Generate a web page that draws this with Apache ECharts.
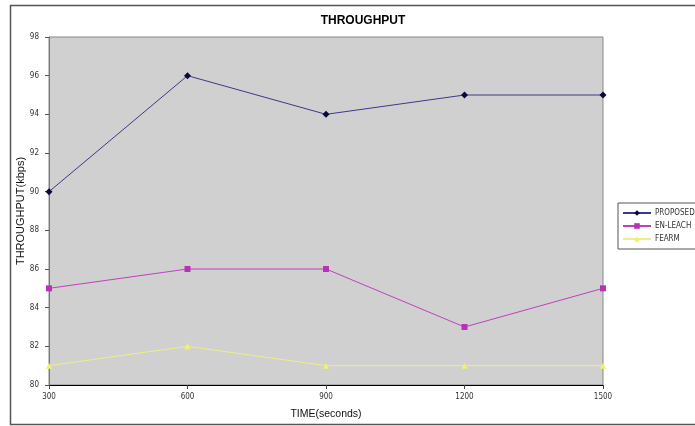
<!DOCTYPE html>
<html>
<head>
<meta charset="utf-8">
<script src="https://cdn.jsdelivr.net/npm/echarts@6/dist/echarts.min.js"></script>
<style>
  html, body { margin: 0; padding: 0; background: #fff; }
  #chart { width: 695px; height: 426px; }
</style>
</head>
<body>
<div id="chart"></div>
<script>
// Simulation time points (seconds)
const timePoints = ['300', '600', '900', '1200', '1500'];

// Throughput per protocol (kbps)
const proposed = [90, 96, 94, 95, 95];
const enLeach = [85, 86, 86, 83, 85];
const fearm = [81, 82, 81, 81, 81];

const seriesNames = ['PROPOSED', 'EN-LEACH', 'FEARM'];

const chart = echarts.init(document.getElementById('chart'), null, { renderer: 'canvas' });

const axisFont = { fontFamily: 'DejaVu Sans Condensed, Liberation Sans Narrow, sans-serif', fontSize: 8, color: '#333' };

chart.setOption({
  animation: false,
  backgroundColor: '#ffffff',
  graphic: [
    {
      type: 'rect',
      shape: { x: 10.5, y: 5.5, width: 700, height: 419 },
      style: { fill: 'none', stroke: '#555', lineWidth: 1.5 },
      z: -1
    }
  ],
  title: {
    text: 'THROUGHPUT',
    left: 358,
    textAlign: 'center',
    top: 10,
    textStyle: { fontFamily: 'Liberation Sans, Arial, sans-serif', fontSize: 12, fontWeight: 'bold', color: '#000' }
  },
  legend: {
    orient: 'vertical',
    left: 618,
    top: 203,
    padding: [6, 30, 6, 4],
    itemGap: 5,
    itemWidth: 28,
    itemHeight: 7,
    borderColor: '#555',
    borderWidth: 1,
    borderRadius: 0,
    backgroundColor: '#fff',
    data: seriesNames,
    textStyle: { fontFamily: 'DejaVu Sans Condensed, sans-serif', fontSize: 8, color: '#333', padding: [0, 0, 0, -1] }
  },
  grid: {
    left: 49,
    right: 92,
    top: 37,
    bottom: 41,
    show: true,
    backgroundColor: '#d0d0d0',
    borderColor: '#888',
    borderWidth: 1
  },
  xAxis: {
    type: 'category',
    data: timePoints,
    boundaryGap: false,
    name: 'TIME(seconds)',
    nameLocation: 'middle',
    nameGap: 24,
    nameMoveOverlap: false,
    nameTextStyle: { fontFamily: 'Liberation Sans, Arial, sans-serif', fontSize: 10.5, color: '#111' },
    axisLine: { lineStyle: { color: '#000', width: 1 } },
    axisTick: { alignWithLabel: true, length: 4, lineStyle: { color: '#444' } },
    axisLabel: Object.assign({ margin: 8 }, axisFont),
    splitLine: { show: false }
  },
  yAxis: {
    type: 'value',
    min: 80,
    max: 98,
    interval: 2,
    name: 'THROUGHPUT(kbps)',
    nameLocation: 'middle',
    nameGap: 23,
    nameMoveOverlap: false,
    nameTextStyle: { fontFamily: 'Liberation Sans, Arial, sans-serif', fontSize: 11, color: '#111' },
    axisLine: { show: true, lineStyle: { color: '#777', width: 1 } },
    axisTick: { show: true, length: 4, lineStyle: { color: '#555' } },
    axisLabel: Object.assign({ margin: 10 }, axisFont),
    splitLine: { show: false }
  },
  series: [
    {
      name: seriesNames[0],
      type: 'line',
      data: proposed,
      symbol: 'diamond',
      symbolSize: 7,
      lineStyle: { color: '#3a3a8c', width: 1 },
      itemStyle: { color: '#0a0a40' }
    },
    {
      name: seriesNames[1],
      type: 'line',
      data: enLeach,
      symbol: 'rect',
      symbolSize: 6,
      lineStyle: { color: '#c040c0', width: 1 },
      itemStyle: { color: '#b832b8' }
    },
    {
      name: seriesNames[2],
      type: 'line',
      data: fearm,
      symbol: 'triangle',
      symbolSize: 6,
      lineStyle: { color: '#eeee88', width: 1 },
      itemStyle: { color: '#f2f26a' }
    }
  ]
});
</script>
</body>
</html>
